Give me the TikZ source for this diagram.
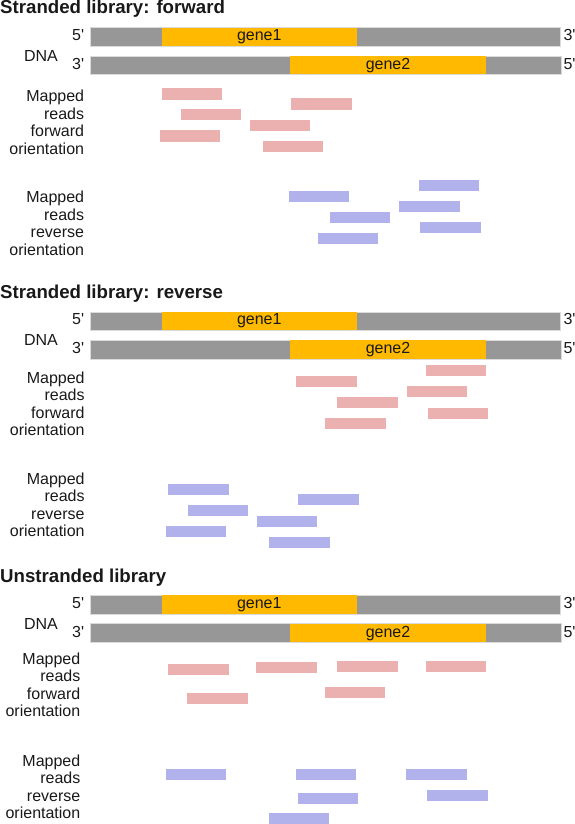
\documentclass[tikz,border=0pt]{standalone}
\usepackage{fontspec}
\setmainfont{Liberation Sans}
\definecolor{strandgray}{HTML}{979797}
\definecolor{strandedge}{HTML}{DADADA}
\definecolor{geneorange}{HTML}{FFB900}
\definecolor{readpink}{HTML}{EBB0B0}
\definecolor{readblue}{HTML}{B1B1EB}
\newcommand\mkreads[3]{%
  \foreach \rx/\ry [count=\ri] in {#3} {\node[#1] (#2\ri) at (\rx,\ry) {};}}
\newcommand\rdlabel[7]{%
  \node[lbltext, anchor=base east] (#1a) at (#2,#3) {#4};
  \node[lbltext, anchor=base east] (#1b) at (#2,#3+17.5) {#5};
  \node[lbltext, anchor=base east] (#1c) at (#2,#3+35) {#6};
  \node[lbltext, anchor=base east] (#1d) at (#2,#3+52.5) {#7};}
\begin{document}
\begin{tikzpicture}[x=1pt,y=-1pt,
  lbltext/.style={font=\fontsize{16}{18}\selectfont, inner sep=0, text=black!90},
  titletext/.style={font=\fontsize{18.67}{21}\selectfont\bfseries, inner sep=0, text=black!90, anchor=base west},
  strandbox/.style={draw=strandedge, line width=0.6pt, fill=strandgray, inner sep=0,
    minimum height=18.6pt, minimum width=470.5pt, anchor=north west},
  genebox/.style={fill=geneorange, inner sep=0, minimum height=18.6pt, minimum width=195.5pt, anchor=north west},
  pinkread/.style={fill=readpink, inner sep=0, minimum width=60.4pt, minimum height=11.2pt, anchor=north west},
  bluread/.style={fill=readblue, inner sep=0, minimum width=60.4pt, minimum height=11.2pt, anchor=north west}]
\useasboundingbox (0,0) rectangle (574,824);

% titles
\node[titletext] (t1) at (0,13.3) {Stranded library: forward};
\node[titletext] (t2) at (0,298.3) {Stranded library: reverse};
\node[titletext] (t3) at (0,582.7) {Unstranded library};

% DNA blocks
\foreach \s/\off in {1/0, 2/284.2, 3/567.7} {
  \node[strandbox] (top\s) at (89.6,27.4+\off) {};
  \node[strandbox] (bot\s) at (90.2,55.7+\off) {};
  \node[genebox] (g1box\s) at (161.3,27.4+\off) {};
  \node[genebox] (g2box\s) at (290.1,55.7+\off) {};
  \node[lbltext, anchor=base] (g1txt\s) at (g1box\s.center |- 0,40.7+\off) {gene1};
  \node[lbltext, anchor=base] (g2txt\s) at (g2box\s.center |- 0,69.3+\off) {gene2};
  \node[lbltext, anchor=base east] (l5\s) at (84.3,40.7+\off) {5\textquotesingle};
  \node[lbltext, anchor=base east] (l3\s) at (84.3,69.3+\off) {3\textquotesingle};
  \node[lbltext, anchor=base west] (r3\s) at (563.3,40.7+\off) {3\textquotesingle};
  \node[lbltext, anchor=base west] (r5\s) at (563.3,69.3+\off) {5\textquotesingle};
  \node[lbltext, anchor=base west] (dna\s) at (23.8,61.7+\off) {DNA};
}

% read labels
\rdlabel{f1}{84.3}{101.7}{Mapped}{reads}{forward}{orientation}
\rdlabel{v1}{84.3}{202.7}{Mapped}{reads}{reverse}{orientation}
\rdlabel{f2}{84.8}{383.3}{Mapped}{reads}{forward}{orientation}
\rdlabel{v2}{84.8}{484.3}{Mapped}{reads}{reverse}{orientation}
\rdlabel{f3}{80.5}{664.3}{Mapped}{reads}{forward}{orientation}
\rdlabel{v3}{80.5}{766}{Mapped}{reads}{reverse}{orientation}

% reads, section 1
\mkreads{pinkread}{pa}{161.3/88.3, 291/98.3, 180.3/109, 249.7/120, 159.3/130.3, 262.3/141}
\mkreads{bluread}{ba}{288.8/190.3, 329.8/211.7, 317.7/232.3, 418.4/179.7, 399/200.7, 420.2/222}
% reads, section 2
\mkreads{pinkread}{pb}{296.1/375.7, 337.1/396.7, 325/417.7, 425.7/365, 406.3/386, 427.5/407.3}
\mkreads{bluread}{bb}{168/483.7, 187.4/505, 165.8/526, 298/494, 256.6/515.3, 269/536.7}
% reads, section 3
\mkreads{pinkread}{pc}{168/663.3, 256.2/661.7, 337.1/660.3, 425.4/660.3, 187/693, 324.7/687}
\mkreads{bluread}{bc}{165.8/768.7, 295.8/769, 406/769, 297.6/793, 427.2/790, 268.7/812.7}
\end{tikzpicture}
\end{document}
